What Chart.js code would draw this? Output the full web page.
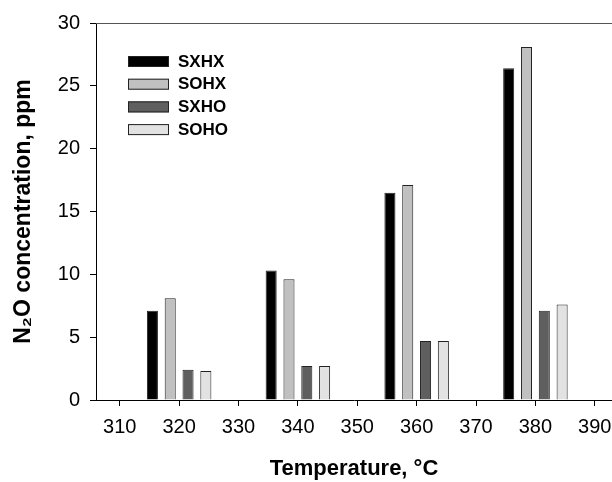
<!DOCTYPE html>
<html>
<head>
<meta charset="utf-8">
<script src="https://cdn.jsdelivr.net/npm/chart.js@4"></script>
<style>
  body { margin: 0; background: #fff; }
  #wrap { width: 612px; height: 482px; position: relative; }
</style>
</head>
<body>
<div id="wrap"><canvas id="n2oChart"></canvas></div>
<script>
// Data
const temps = [320, 340, 360, 380];
const sxhx = [7.1, 10.3, 16.5, 26.4];
const sohx = [8.1, 9.6, 17.1, 28.1];
const sxho = [2.4, 2.7, 4.7, 7.1];
const soho = [2.3, 2.7, 4.7, 7.6];
const seriesNames = ['SXHX', 'SOHX', 'SXHO', 'SOHO'];
const seriesColors = ['#000000', '#c0c0c0', '#5f5f5f', '#e2e2e2'];
const xRange = [306, 392.9];
const yRange = [0, 30];

function toPoints(vals) {
    return temps.map((t, i) => ({ x: t, y: vals[i] }));
}

const allSeries = [sxhx, sohx, sxho, soho];

// top frame line + legend drawn inside the plot
const framePlugin = {
    id: 'framePlugin',
    afterDraw(chart) {
        const ctx = chart.ctx;
        const area = chart.chartArea;
        ctx.save();
        ctx.strokeStyle = '#555';
        ctx.lineWidth = 1;
        ctx.beginPath();
        ctx.moveTo(area.left, area.top + 0.5);
        ctx.lineTo(area.right, area.top + 0.5);
        ctx.stroke();

        // legend
        ctx.font = 'bold 17px "Liberation Sans", Arial, sans-serif';
        ctx.textBaseline = 'middle';
        ctx.textAlign = 'left';
        chart.data.datasets.forEach((ds, i) => {
            const bx = area.left + 32;
            const by = area.top + 33 + i * 22.7;
            ctx.fillStyle = ds.backgroundColor;
            ctx.fillRect(bx, by, 41, 11);
            ctx.strokeStyle = '#222';
            ctx.strokeRect(bx + 0.5, by + 0.5, 40, 10);
            ctx.fillStyle = '#000';
            ctx.fillText(ds.label, bx + 50, by + 6);
        });
        ctx.restore();
    }
};

let ctx = document.getElementById('n2oChart').getContext('2d');
let n2oChart = new Chart(ctx, {
    type: 'bar',
    data: {
        datasets: allSeries.map((vals, i) => ({
            label: seriesNames[i],
            data: toPoints(vals),
            backgroundColor: seriesColors[i],
            borderColor: '#222',
            borderWidth: 1,
            categoryPercentage: 1.2,
            barPercentage: 0.62
        }))
    },
    options: {
        responsive: true,
        maintainAspectRatio: false,
        animation: false,
        layout: { padding: { top: 23, left: 0, right: 0, bottom: 0 } },
        plugins: {
            legend: { display: false },
            tooltip: { enabled: false }
        },
        scales: {
            x: {
                type: 'linear',
                min: xRange[0],
                max: xRange[1],
                offset: false,
                grid: { drawOnChartArea: false, drawTicks: true, tickLength: 6, tickColor: '#000', offset: false },
                border: { display: true, color: '#000', width: 1 },
                ticks: {
                    stepSize: 10,
                    includeBounds: false,
                    color: '#000',
                    padding: 9,
                    maxRotation: 0,
                    font: { family: '"Liberation Sans", Arial, sans-serif', size: 20 }
                },
                title: {
                    display: true,
                    text: 'Temperature, \u00B0C',
                    color: '#000',
                    padding: { top: 0, bottom: 0 },
                    font: { family: '"Liberation Sans", Arial, sans-serif', size: 22, weight: 'bold' }
                },
                afterFit(scale) {
                    scale.height = 82;
                    scale.paddingLeft = 0;
                    scale.paddingRight = 0;
                }
            },
            y: {
                min: yRange[0],
                max: yRange[1],
                grid: { drawOnChartArea: false, drawTicks: true, tickLength: 6, tickColor: '#000' },
                border: { display: true, color: '#000', width: 1 },
                ticks: {
                    stepSize: 5,
                    color: '#000',
                    padding: 10,
                    font: { family: '"Liberation Sans", Arial, sans-serif', size: 20 }
                },
                title: {
                    display: true,
                    text: 'N\u2082O concentration, ppm',
                    color: '#000',
                    padding: { top: 10, bottom: 0 },
                    font: { family: '"Liberation Sans", Arial, sans-serif', size: 23, weight: 'bold' }
                },
                afterFit(scale) {
                    scale.width = 96;
                }
            }
        }
    },
    plugins: [framePlugin]
});
</script>
</body>
</html>
